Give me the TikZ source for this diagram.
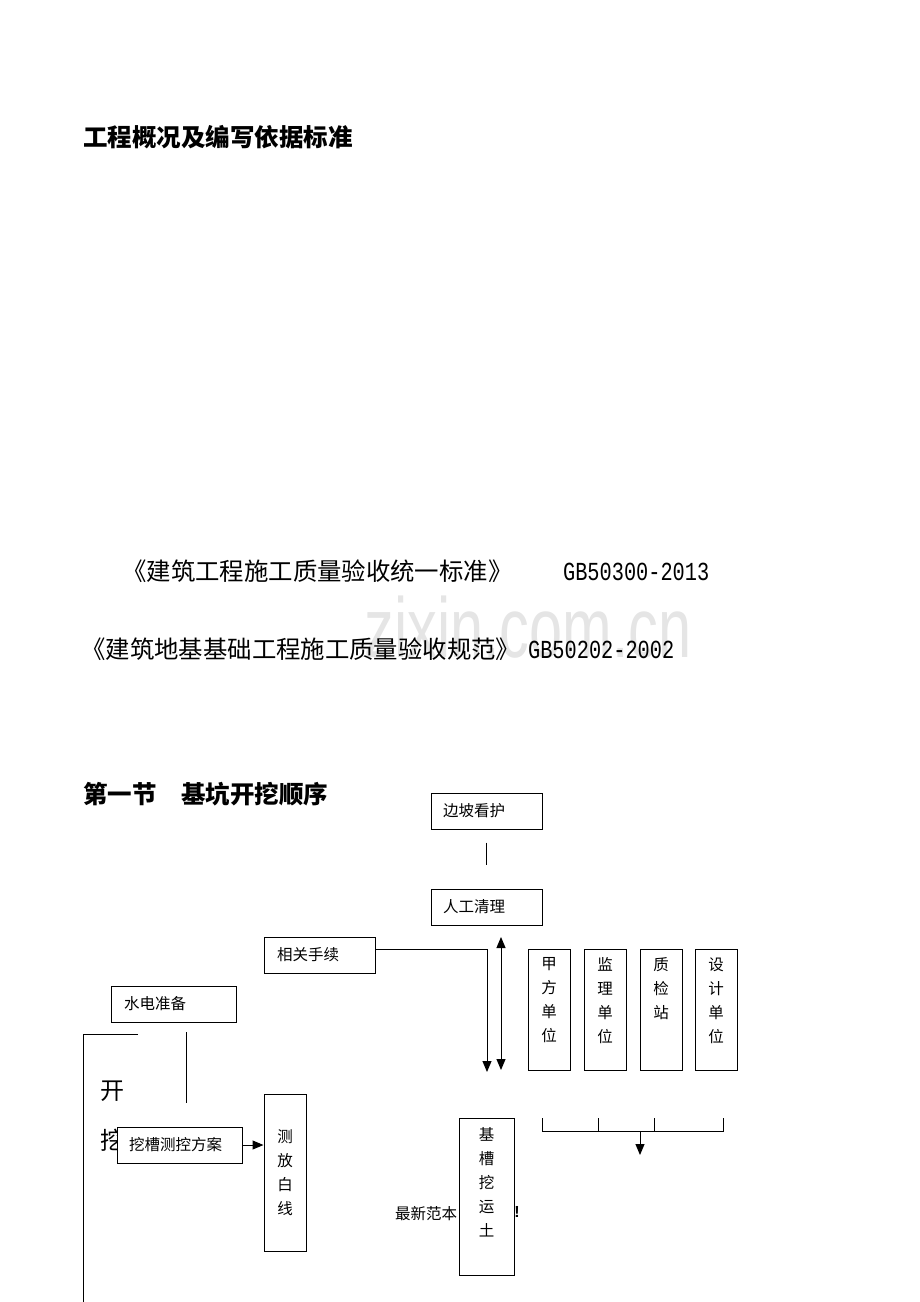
\documentclass[tikz,border=0pt]{standalone}
\usepackage{fontspec}
\newfontfamily\cjk{Noto Sans CJK SC}
\newfontfamily\mono{Liberation Mono}
\newfontfamily\wmfont{Liberation Sans}
\usetikzlibrary{arrows.meta}
\begin{document}
\begin{tikzpicture}[x=1pt,y=-1pt,
  every node/.style={inner sep=0pt},
  ln/.style={line width=1pt},
  arr/.style={line width=1pt,-{Triangle[width=9pt,length=11pt]}},
  darr/.style={line width=1pt,{Triangle[width=9pt,length=11pt]}-{Triangle[width=9pt,length=11pt]}},
  hbox/.style={draw,line width=1pt,minimum height=36pt,inner xsep=12pt,inner ysep=0pt,align=left,font=\cjk\fontsize{15.5}{18}\selectfont,fill=white},
  vbox/.style={draw,line width=1pt,fill=white},
  vtext/.style={align=center,font=\cjk\fontsize{15.5}{24}\selectfont},
  head/.style={font=\cjk\bfseries\fontsize{24.5}{26}\selectfont},
  body/.style={font=\cjk\fontsize{24.4}{26}\selectfont},
  code/.style={font=\mono\fontsize{26}{28}\selectfont,xscale=0.78},
  wmark/.style={font=\wmfont\fontsize{85}{90}\selectfont,text=black!10,xscale=0.7},
]
\useasboundingbox (0,0) rectangle (920,1302);

% watermark
\node[wmark,anchor=base] (wmk) at (528,657) {zixin.com.cn};

% texts
\node[head,anchor=base west] (title) at (83,146) {工程概况及编写依据标准};
\node[body,anchor=base west] (ref1) at (122,580) {《建筑工程施工质量验收统一标准》};
\node[code,anchor=base west] (gb1) at (563,580) {GB50300-2013};
\node[body,anchor=base west] (ref2) at (81,658) {《建筑地基基础工程施工质量验收规范》};
\node[code,anchor=base west] (gb2) at (528,658) {GB50202-2002};
\node[head,anchor=base west] (sec) at (83,803) {第一节　基坑开挖顺序};

% partly hidden texts
\node[font=\cjk\fontsize{24}{26}\selectfont] (kai) at (112,1091) {开};
\node[font=\cjk\fontsize{24}{26}\selectfont] (wa) at (112,1140) {挖};
\node[font=\cjk\fontsize{15.5}{18}\selectfont] (zx) at (426,1214) {最新范本};
\node[font=\wmfont\bfseries\fontsize{16}{18}\selectfont] (ex) at (517,1212) {!};

% horizontal boxes
\node[hbox,text width=87pt] (bp) at (486.5,811) {边坡看护};
\node[hbox,text width=87pt] (rg) at (486.5,907) {人工清理};
\node[hbox,text width=85pt,inner xsep=13pt] (xg) at (319.5,955) {相关手续};
\node[hbox,text width=99pt,inner xsep=13pt] (sd) at (173.5,1004) {水电准备};
\node[hbox,text width=101pt] (wc) at (179.5,1145) {挖槽测控方案};

% vertical boxes
\node[vbox,minimum width=42pt,minimum height=121pt] (jf) at (549,1009.5) {};
\node[vbox,minimum width=42pt,minimum height=121pt] (jl) at (605,1009.5) {};
\node[vbox,minimum width=42pt,minimum height=121pt] (zj) at (661,1009.5) {};
\node[vbox,minimum width=42pt,minimum height=121pt] (sj) at (716,1009.5) {};
\node[vtext,anchor=north] (jft) at ([yshift=-9pt]jf.north) {甲\\方\\单\\位};
\node[vtext,anchor=north] (jlt) at ([yshift=-9pt]jl.north) {监\\理\\单\\位};
\node[vtext,anchor=north] (zjt) at ([yshift=-9pt]zj.north) {质\\检\\站};
\node[vtext,anchor=north] (sjt) at ([yshift=-9pt]sj.north) {设\\计\\单\\位};

\node[vbox,minimum width=42pt,minimum height=157pt] (cf) at (285,1172.5) {};
\node[vtext] (cft) at (cf.center) {测\\放\\白\\线};
\node[vbox,minimum width=55pt,minimum height=157pt] (jc) at (486.5,1196.5) {};
\node[vtext,anchor=north] (jct) at ([yshift=-10pt]jc.north) {基\\槽\\挖\\运\\土};

% connectors
\draw[ln] ([yshift=-13pt]bp.south) -- ([yshift=24pt]rg.north);
\coordinate (xgend) at (487,1072);
\draw[arr] ([yshift=6pt]xg.east) -| (xgend);
\coordinate (da1) at (501,937);
\coordinate (da2) at (501,1070);
\draw[darr] (da1) -- (da2);

\coordinate (b1) at (542,1118);
\coordinate (b2) at (598,1118);
\coordinate (b3) at (654,1118);
\coordinate (b4) at (723,1118);
\coordinate (bl) at (542,1131);
\coordinate (br) at (723,1131);
\coordinate (bm) at (640,1131);
\coordinate (bt) at (640,1155);
\draw[ln] (b1) -- (bl) -- (br) -- (b4);
\draw[ln] (b2) -- (b2 |- bl);
\draw[ln] (b3) -- (b3 |- bl);
\draw[arr] (bm) -- (bt);

\coordinate (sdl1) at (186,1032);
\coordinate (sdl2) at (186,1103);
\draw[ln] (sdl1) -- (sdl2);
\coordinate (lb1) at (138,1034);
\coordinate (lb2) at (83,1034);
\coordinate (lb3) at (83,1302);
\draw[ln] (lb1) -- (lb2) -- (lb3);

\draw[arr] (wc.east) -- (wc.east -| cf.west);
\end{tikzpicture}
\end{document}
